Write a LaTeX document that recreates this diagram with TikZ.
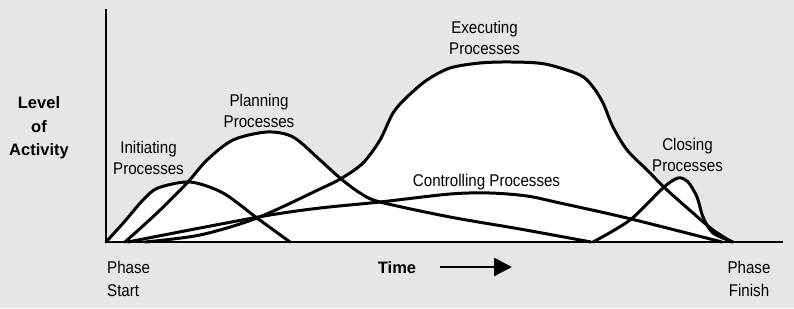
\documentclass[tikz,border=0pt]{standalone}
\usepackage{fontspec}
\setmainfont{Liberation Sans}
\newfontfamily\procfont{Liberation Sans}[FakeStretch=0.89]
\usetikzlibrary{arrows.meta}
\definecolor{paper}{RGB}{230,230,230}
\pgfdeclarelayer{fills}
\pgfsetlayers{fills,main}
\tikzstyle{curve} = [line width=3pt, line join=round, line cap=round]
\tikzstyle{axisline} = [line width=2.8pt]
\tikzstyle{phase} = [font=\procfont\fontsize{17}{21}\selectfont, align=center, inner sep=0pt]
\tikzstyle{heading} = [font=\bfseries\fontsize{16.5}{23.5}\selectfont, align=center, inner sep=0pt]
\tikzstyle{timearrow} = [line width=2.7pt, -{Triangle[length=18pt,width=18pt]}]

% one process curve: white area underneath, black line on top
\newcommand{\activity}[1]{%
  \begin{pgfonlayer}{fills}
    \fill[white] plot[smooth] coordinates {#1} -- cycle;
  \end{pgfonlayer}
  \draw[curve] plot[smooth] coordinates {#1};}

\begin{document}
\begin{tikzpicture}[x=1pt, y=-1pt]

\begin{pgfonlayer}{fills}
  \fill[paper] (0,0) rectangle (794,308);
\end{pgfonlayer}

% initiating
\activity{(106,242) (125,221) (143,200) (158,188) (190,182) (223,193) (257,218) (290,242)}
% planning
\activity{(125,242) (157,213) (187,183) (207,160) (233,140) (267,132) (293,137) (320,160) (340,178) (360,193) (380,202) (450,217) (520,229) (591,242)}
% controlling
\activity{(128,242) (200,228) (270,215) (320,208) (380,202) (450,194) (490,193) (527,196) (560,203) (627,218) (722,242)}
% executing
\activity{(145,242) (200,235) (257,218) (320,189) (342,178) (363,163) (380,140) (393,113) (407,97) (427,80) (450,68) (480,63) (511,62) (545,64) (580,75) (593,87) (603,103) (613,127) (627,150) (647,170) (667,190) (693,213) (713,230) (732,242)}
% closing
\activity{(593,242) (630,220) (663,188) (678,178) (688,182) (697,197) (703,217) (713,233) (733,242)}

\coordinate (ytop) at (106,9);
\coordinate (origin) at (106,242);
\coordinate (xend) at (783,242);
\draw[axisline] (ytop) -- (origin) -- (xend);

\node[heading] (level) at (39,128) {Level\\of\\Activity};
\node[phase] (initiating) at (148.5,158) {Initiating\\Processes};
\node[phase] (planning) at (259,110.5) {Planning\\Processes};
\node[phase] (executing) at (484.5,38.3) {Executing\\Processes};
\node[phase] (controlling) at (486.5,182.5) {Controlling Processes};
\node[phase] (closing) at (687.5,155) {Closing\\Processes};

\node[phase, align=left, anchor=west, font=\procfont\fontsize{17}{23}\selectfont] (start) at (107,279) {Phase\\Start};
\node[phase, font=\procfont\fontsize{17}{23}\selectfont] (finish) at (749,279) {Phase\\Finish};

\node[heading] (time) at (397,267.5) {Time};
\coordinate (timetail) at (440,267);
\coordinate (timetip) at (512,267);
\draw[timearrow] (timetail) -- (timetip);

\end{tikzpicture}
\end{document}
